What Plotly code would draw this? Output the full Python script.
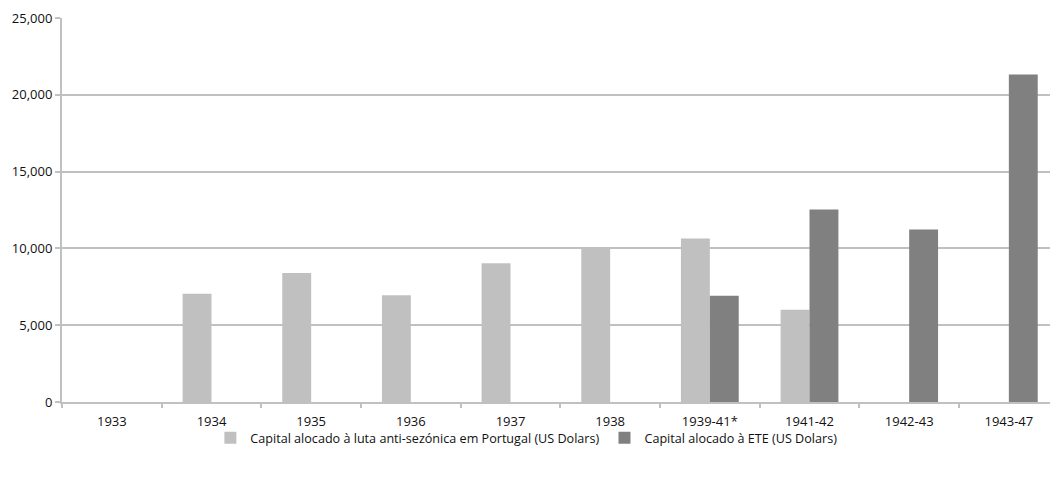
import plotly.graph_objects as go

categories = ["1933", "1934", "1935", "1936", "1937", "1938", "1939-41*", "1941-42", "1942-43", "1943-47"]
portugal = [0, 7050, 8400, 6950, 9030, 10000, 10640, 6000, 0, 0]
ete = [0, 0, 0, 0, 0, 0, 6920, 12530, 11230, 21320]
y_ticks = [0, 5000, 10000, 15000, 20000, 25000]

name_pt = "Capital alocado à luta anti-sezónica em Portugal (US Dolars)"
name_ete = "Capital alocado à ETE (US Dolars)"

font_family = "'Open Sans', 'Noto Sans', sans-serif"
grid = "#c0c0c0"

fig = go.Figure()
fig.add_trace(go.Bar(x=categories, y=portugal, name=name_pt, marker=dict(color="#c0c0c0", line=dict(width=0))))
fig.add_trace(go.Bar(x=categories, y=ete, name=name_ete, marker=dict(color="#808080", line=dict(width=0))))

fig.update_layout(
    width=1050, height=477,
    margin=dict(l=62, r=0, t=18, b=75),
    paper_bgcolor="white", plot_bgcolor="white",
    barmode="group", bargap=0.42, bargroupgap=0,
    font=dict(family=font_family, size=13, color="#111111"),
    showlegend=True,
    legend=dict(orientation="h", x=0.47, xanchor="center", y=-0.094, yanchor="middle",
                bgcolor="rgba(0,0,0,0)",
                font=dict(size=12.6, color="#111111"), itemwidth=30, tracegroupgap=0,
                traceorder="normal"),
    xaxis=dict(range=[-0.5, 9.413], type="category", showline=True, linecolor=grid, linewidth=2,
               ticks="outside", tickson="boundaries", ticklen=4, tickcolor=grid, tickwidth=2,
               showgrid=False, zeroline=False, tickfont=dict(size=13), ticklabelstandoff=6),
    yaxis=dict(range=[0, 25000], tickvals=y_ticks, tickformat=",d", showline=True, linecolor=grid, linewidth=2,
               ticks="outside", ticklen=5, tickcolor=grid, tickwidth=2,
               showgrid=True, gridcolor=grid, gridwidth=2, zeroline=False, tickfont=dict(size=13)),
)

fig.write_html("out.html")
